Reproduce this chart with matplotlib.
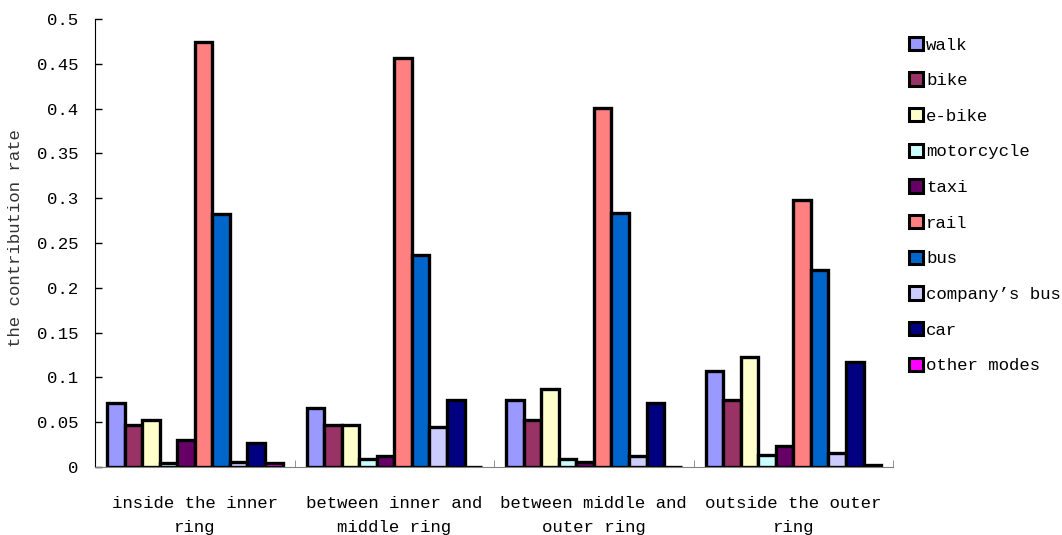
import matplotlib
matplotlib.use('Agg')
import matplotlib.pyplot as plt
import matplotlib.patches as mpatches
import numpy as np

regions = ['inside the inner\nring', 'between inner and\nmiddle ring',
           'between middle and\nouter ring', 'outside the outer\nring']
modes = ['walk', 'bike', 'e-bike', 'motorcycle', 'taxi', 'rail', 'bus',
         "company\u2019s bus", 'car', 'other modes']

# contribution rate per mode, one list per region
inner = [0.072, 0.047, 0.052, 0.004, 0.030, 0.474, 0.282, 0.006, 0.027, 0.005]
inner_middle = [0.066, 0.047, 0.047, 0.009, 0.012, 0.456, 0.237, 0.045, 0.075, 0.0]
middle_outer = [0.075, 0.053, 0.087, 0.009, 0.006, 0.401, 0.283, 0.012, 0.072, 0.0]
outer = [0.107, 0.075, 0.123, 0.013, 0.023, 0.298, 0.220, 0.016, 0.117, 0.002]

ytick_vals = [0, 0.05, 0.1, 0.15, 0.2, 0.25, 0.3, 0.35, 0.4, 0.45, 0.5]
ytick_labels = ['0', '0.05', '0.1', '0.15', '0.2', '0.25', '0.3', '0.35', '0.4', '0.45', '0.5']

colors = ['#9999FF', '#993366', '#FFFFCC', '#CCFFFF', '#660066',
          '#FF8080', '#0066CC', '#CCCCFF', '#000080', '#FF00FF']

plt.rcParams['font.family'] = ['Liberation Mono', 'DejaVu Sans Mono']
fs = 12.5

fig = plt.figure(figsize=(10.62, 5.35), dpi=100)
ax = fig.add_axes([0.0895, 0.127, 0.7515, 0.8375])

data = np.array([inner, inner_middle, middle_outer, outer])
bw = 0.088
for j, m in enumerate(modes):
    xs = np.arange(len(regions)) + 0.06 + j * bw
    ax.bar(xs, data[:, j], width=bw, align='edge', color=colors[j],
           edgecolor='black', linewidth=2.4, label=m)

ax.set_xlim(0, len(regions))
ax.set_ylim(0, 0.5)
ax.set_yticks(ytick_vals)
ax.set_yticklabels(ytick_labels, fontsize=fs)
ax.set_xticks(np.arange(len(regions)) + 0.5)
ax.set_xticklabels(regions, fontsize=fs, linespacing=1.75)
ax.set_xticks(np.arange(len(regions) + 1), minor=True)
ax.tick_params(axis='x', which='major', length=0, pad=21)
ax.tick_params(axis='x', which='minor', direction='in', length=5, color='#808080')
ax.tick_params(axis='y', direction='in', length=5, pad=12, width=1)

for s in ['top', 'right']:
    ax.spines[s].set_visible(False)
ax.spines['bottom'].set_color('#808080')
ax.spines['left'].set_color('black')

ax.set_ylabel('the contribution rate', fontsize=fs, color='#333333')
ax.yaxis.set_label_coords(-0.09, 0.51)

handles = [mpatches.Patch(facecolor=c, edgecolor='black', linewidth=2.2) for c in colors]
ax.legend(handles, modes, loc='upper left', bbox_to_anchor=(1.0, 0.995),
          frameon=False, fontsize=fs, labelspacing=1.15, handlelength=0.8,
          handleheight=0.8, handletextpad=0.2, borderaxespad=0.5)

fig.savefig('out.png', dpi=100)
